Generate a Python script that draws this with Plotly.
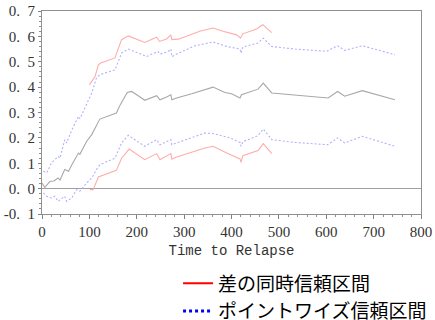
import plotly.graph_objects as go

# Estimate of survival difference (gray)
t_est = [0, 6, 17, 25, 34, 38, 48, 56, 63, 77, 80, 94, 105, 119, 122, 157, 165, 180, 189, 200,
         217, 242, 249, 263, 272, 274, 284, 316, 344, 361, 386, 400, 418, 421, 456, 467, 485,
         604, 624, 639, 676, 745]
v_est = [0.022, 0.005, 0.029, 0.030, 0.042, 0.034, 0.075, 0.068, 0.094, 0.140, 0.135, 0.186, 0.213,
         0.265, 0.274, 0.298, 0.330, 0.379, 0.383, 0.370, 0.348, 0.366, 0.350, 0.361, 0.370, 0.350,
         0.357, 0.374, 0.392, 0.400, 0.379, 0.374, 0.357, 0.370, 0.392, 0.416, 0.377,
         0.357, 0.383, 0.364, 0.386, 0.350]

# Pointwise confidence interval (blue dotted)
t_pw_up = [3, 10, 20, 34, 38, 48, 52, 63, 77, 80, 105, 115, 122, 154, 168, 182, 221, 245, 249,
           266, 272, 274, 288, 323, 361, 390, 418, 420, 424, 456, 467, 485, 534, 601, 624, 639,
           676, 745]
v_pw_up = [0.068, 0.062, 0.101, 0.127, 0.120, 0.193, 0.180, 0.232, 0.285, 0.275, 0.377, 0.436,
           0.449, 0.468, 0.534, 0.550, 0.521, 0.540, 0.530, 0.540, 0.550, 0.520, 0.534, 0.563,
           0.578, 0.560, 0.550, 0.534, 0.558, 0.574, 0.593, 0.560, 0.550, 0.541, 0.563, 0.545,
           0.563, 0.528]
t_pw_lo = [3, 10, 20, 27, 34, 42, 48, 52, 63, 73, 80, 94, 105, 115, 122, 154, 168, 182, 217, 242,
           249, 272, 274, 284, 344, 361, 397, 418, 420, 424, 456, 467, 485, 534, 603, 624, 639,
           676, 745]
v_pw_lo = [-0.017, -0.030, -0.037, -0.030, -0.050, -0.040, -0.030, -0.050, -0.037, -0.004, -0.010,
           0.022, 0.042, 0.075, 0.094, 0.120, 0.180, 0.210, 0.167, 0.193, 0.173, 0.193, 0.173,
           0.180, 0.219, 0.217, 0.200, 0.182, 0.167, 0.185, 0.209, 0.235, 0.193, 0.182, 0.173,
           0.200, 0.180, 0.206, 0.167]

# Simultaneous confidence band for difference (red)
t_sim_up = [100, 112, 119, 124, 154, 168, 182, 217, 242, 248, 263, 272, 274, 288, 333, 361, 382,
            411, 419, 424, 453, 466, 485]
v_sim_up = [0.409, 0.442, 0.488, 0.495, 0.515, 0.587, 0.602, 0.576, 0.597, 0.580, 0.590, 0.606,
            0.587, 0.589, 0.620, 0.633, 0.620, 0.606, 0.593, 0.610, 0.629, 0.646, 0.615]
t_sim_lo = [101, 108, 119, 157, 168, 184, 217, 242, 249, 272, 274, 284, 344, 361, 390, 418, 420,
            424, 456, 467, 485]
v_sim_lo = [-0.004, -0.004, 0.046, 0.072, 0.120, 0.156, 0.114, 0.138, 0.114, 0.138, 0.116, 0.125,
            0.160, 0.167, 0.140, 0.117, 0.104, 0.130, 0.150, 0.177, 0.138]

legend_names = ["差の同時信頼区間", "ポイントワイズ信頼区間"]
y_ticks = [-0.1, 0.0, 0.1, 0.2, 0.3, 0.4, 0.5, 0.6, 0.7]
y_ticktext = ["-0.\u00a0\u00a01", "0.\u00a0\u00a00", "0.\u00a0\u00a01", "0.\u00a0\u00a02",
              "0.\u00a0\u00a03", "0.\u00a0\u00a04", "0.\u00a0\u00a05", "0.\u00a0\u00a06",
              "0.\u00a0\u00a07"]
x_ticks = [0, 100, 200, 300, 400, 500, 600, 700, 800]

RED = "#ffacac"
BLUE = "#b0b0ff"
GRAY = "#a8a8a8"
SERIF = "Liberation Serif"
MONO = "Liberation Mono"

fig = go.Figure()
fig.add_trace(go.Scatter(x=t_est, y=v_est, mode="lines", line=dict(color=GRAY, width=1.1),
                         showlegend=False))
fig.add_trace(go.Scatter(x=t_pw_up, y=v_pw_up, mode="lines",
                         line=dict(color=BLUE, width=1.1, dash="2px,2px"), showlegend=False))
fig.add_trace(go.Scatter(x=t_pw_lo, y=v_pw_lo, mode="lines",
                         line=dict(color=BLUE, width=1.1, dash="2px,2px"), showlegend=False))
fig.add_trace(go.Scatter(x=t_sim_up, y=v_sim_up, mode="lines", line=dict(color=RED, width=1.1),
                         showlegend=False))
fig.add_trace(go.Scatter(x=t_sim_lo, y=v_sim_lo, mode="lines", line=dict(color=RED, width=1.1),
                         showlegend=False))
# legend entries
fig.add_trace(go.Scatter(x=[None], y=[None], mode="lines", name=legend_names[0],
                         line=dict(color="#ff0000", width=2)))
fig.add_trace(go.Scatter(x=[None], y=[None], mode="lines", name=legend_names[1],
                         line=dict(color="#0000ff", width=3, dash="dot")))

fig.update_layout(
    width=435, height=320,
    margin=dict(l=42, r=14, t=11, b=106, autoexpand=False),
    paper_bgcolor="white", plot_bgcolor="white",
    showlegend=True,
    legend=dict(x=0.359, y=-0.248, xanchor="left", yanchor="top",
                font=dict(family="Noto Sans CJK JP", size=19, color="black"),
                bgcolor="rgba(0,0,0,0)", borderwidth=0, tracegroupgap=0,
                itemwidth=30),
    xaxis=dict(range=[0, 800], tickvals=x_ticks, ticks="outside", ticklen=4, tickcolor="#808080",
               showline=True, linecolor="#909090", linewidth=1, mirror=True, automargin=False,
               showgrid=False, zeroline=False,
               minor=dict(dtick=20, ticks="outside", ticklen=2, tickcolor="#909090"),
               tickfont=dict(family=SERIF, size=15, color="#333333"),
               title=dict(text="Time to Relapse", standoff=6,
                          font=dict(family=MONO, size=14, color="#333333"))),
    yaxis=dict(range=[-0.1, 0.7], tickvals=y_ticks, ticktext=y_ticktext, ticks="outside",
               ticklen=3, tickcolor="#808080", automargin=False,
               showline=True, linecolor="#909090", linewidth=1, mirror=True,
               showgrid=False, zeroline=True, zerolinecolor="#a0a0a0", zerolinewidth=1,
               minor=dict(dtick=0.02, ticks="outside", ticklen=2, tickcolor="#909090"),
               tickfont=dict(family=SERIF, size=15, color="#333333")),
)

# remove the default 8px page margin so the 435x320 figure fills the window exactly
fig.write_html("out.html", config={"displayModeBar": False},
               post_script="document.body.style.margin='0';document.body.style.overflow='hidden';")
